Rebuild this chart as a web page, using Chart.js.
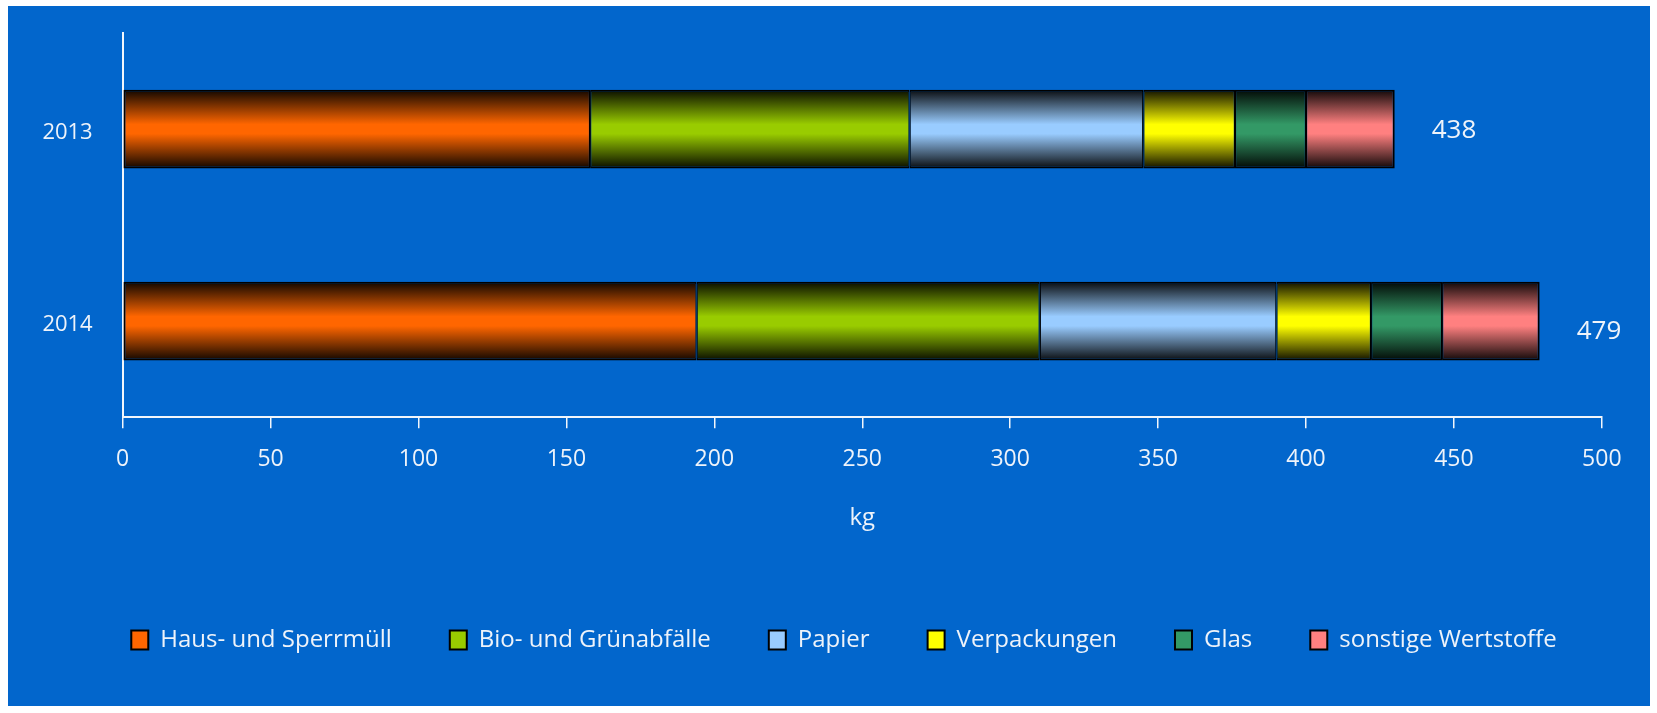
<!DOCTYPE html>
<html>
<head>
<meta charset="utf-8">
<script src="https://cdn.jsdelivr.net/npm/chart.js@4/dist/chart.umd.min.js"></script>
<style>
  html, body { margin: 0; padding: 0; background: #ffffff; }
  #wrap { position: absolute; left: 8px; top: 6px; width: 1642px; height: 700px; background: #0266cc; }
  canvas { display: block; }
</style>
</head>
<body>
<div id="wrap"><canvas id="c" width="1642" height="700"></canvas></div>
<script>
// ---- data ----
const categories = ['2013', '2014'];
const seriesNames = ['Haus- und Sperrmüll', 'Bio- und Grünabfälle', 'Papier', 'Verpackungen', 'Glas', 'sonstige Wertstoffe'];
const hausSperrmuell = [158, 194];
const bioGruen = [108, 116];
const papier = [79, 80];
const verpackungen = [31, 32];
const glas = [24, 24];
const sonstige = [30, 33];
const totalLabels = ['438', '479'];
const xTicks = [0, 50, 100, 150, 200, 250, 300, 350, 400, 450, 500];

// ---- style ----
const seriesColors = ['#ff6600', '#99cc00', '#99ccff', '#ffff00', '#339966', '#ff8080'];
const seriesValues = [hausSperrmuell, bioGruen, papier, verpackungen, glas, sonstige];
const FONT = "'Open Sans', 'Noto Sans', sans-serif";
const TEXT = '#eef3fa';
const CAT_PCT = 1.0, BAR_PCT = 0.41;

function shade(hex, f) {
  const n = parseInt(hex.slice(1), 16);
  const r = Math.round(((n >> 16) & 255) * f), g = Math.round(((n >> 8) & 255) * f), b = Math.round((n & 255) * f);
  return `rgb(${r},${g},${b})`;
}
function barFill(base) {
  return (ctx) => {
    const chart = ctx.chart;
    const ys = chart.scales && chart.scales.y;
    if (!ys || ctx.type !== 'data' || !isFinite(ys.height) || ys.height <= 0) return base;
    const c = ys.getPixelForValue(ctx.dataIndex);
    const half = (ys.height / categories.length) * CAT_PCT * BAR_PCT / 2;
    const g = chart.ctx.createLinearGradient(0, c - half, 0, c + half);
    g.addColorStop(0, shade(base, 0.06));
    g.addColorStop(0.44, base);
    g.addColorStop(0.56, base);
    g.addColorStop(1, shade(base, 0.06));
    return g;
  };
}
const last = seriesNames.length - 1;
const datasets = seriesNames.map((name, i) => ({
  label: name,
  data: seriesValues[i],
  backgroundColor: barFill(seriesColors[i]),
  borderColor: '#000000',
  borderWidth: { top: 2, bottom: 2, left: i === 0 ? 2 : 1.2, right: i === last ? 2 : 1.2 },
  borderSkipped: false,
  categoryPercentage: CAT_PCT,
  barPercentage: BAR_PCT
}));

const totalsPlugin = {
  id: 'totals',
  afterDatasetsDraw(chart) {
    const { ctx, scales: { x, y } } = chart;
    const yOffsets = [2, 10];
    ctx.save();
    ctx.fillStyle = TEXT;
    ctx.font = `26px ${FONT}`;
    ctx.textAlign = 'left';
    ctx.textBaseline = 'middle';
    categories.forEach((cat, i) => {
      const sum = seriesValues.reduce((s, arr) => s + arr[i], 0);
      ctx.fillText(totalLabels[i], x.getPixelForValue(sum) + 37, y.getPixelForValue(i) + yOffsets[i]);
    });
    ctx.restore();
  }
};

new Chart(document.getElementById('c'), {
  type: 'bar',
  data: { labels: categories, datasets },
  plugins: [totalsPlugin],
  options: {
    indexAxis: 'y',
    responsive: false,
    devicePixelRatio: 1,
    animation: false,
    layout: { padding: { left: 30, right: 0, top: 27, bottom: 44 } },
    scales: {
      x: {
        stacked: true,
        min: 0, max: 500,
        afterBuildTicks: (s) => { s.ticks = xTicks.map(v => ({ value: v })); },
        afterFit: (s) => { s.paddingRight = 48.2; s.paddingLeft = 0; s.height = 152.7; },
        grid: { display: true, drawOnChartArea: false, drawTicks: true, tickLength: 11, color: '#f2f6fb', lineWidth: 1.5 },
        border: { display: true, color: '#f2f6fb', width: 2 },
        ticks: { color: TEXT, font: { family: FONT, size: 23 }, padding: 17 },
        title: { display: true, text: 'kg', color: TEXT, font: { family: FONT, size: 24 }, padding: { top: 0, bottom: 37 } }
      },
      y: {
        stacked: true,
        afterFit: (s) => { s.width = 84.7; s.paddingTop = 0; s.paddingBottom = 0; },
        grid: { display: false, drawTicks: false },
        border: { display: true, color: '#f2f6fb', width: 2 },
        ticks: { color: TEXT, font: { family: FONT, size: 22 }, padding: 30, labelOffset: 4 }
      }
    },
    plugins: {
      legend: {
        position: 'bottom',
        labels: {
          color: TEXT,
          font: { family: FONT, size: 24 },
          boxWidth: 17,
          boxHeight: 19,
          padding: 58,
          generateLabels: (chart) => chart.data.datasets.map((ds, i) => ({
            text: ds.label,
            fillStyle: seriesColors[i],
            strokeStyle: '#000000',
            lineWidth: 2,
            fontColor: TEXT,
            hidden: !chart.isDatasetVisible(i),
            datasetIndex: i
          }))
        }
      },
      tooltip: { enabled: false }
    }
  }
});
</script>
</body>
</html>
